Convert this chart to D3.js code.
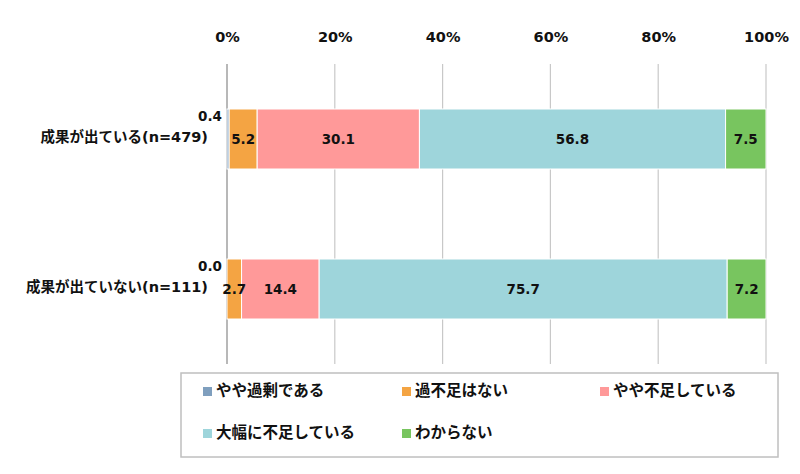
<!DOCTYPE html>
<html>
<head>
<meta charset="utf-8">
<script src="https://cdn.jsdelivr.net/npm/d3@7"></script>
<style>
	body { margin: 0; background: #fff; }
	svg text { font-family: "DejaVu Sans", "Noto Sans CJK JP", sans-serif; font-weight: bold; fill: #111; }
</style>
</head>
<body>
<div id="chart"></div>
<script>
	// data
	var categories = ["成果が出ている(n=479)", "成果が出ていない(n=111)"];
	var seriesNames = ["やや過剰である", "過不足はない", "やや不足している", "大幅に不足している", "わからない"];
	var seriesColors = ["#7f9fbe", "#f4a443", "#ff9999", "#9ed5db", "#78c55f"];
	var yayaKajo = [0.4, 0.0];
	var kafusokuNai = [5.2, 2.7];
	var yayaFusoku = [30.1, 14.4];
	var ohabaFusoku = [56.8, 75.7];
	var wakaranai = [7.5, 7.2];
	var tickValues = [0, 20, 40, 60, 80, 100];

	var allSeries = [yayaKajo, kafusokuNai, yayaFusoku, ohabaFusoku, wakaranai];
	var rows = categories.map(function(c, i){
		var r = {cat: c};
		seriesNames.forEach(function(s, k){ r[s] = allSeries[k][i]; });
		return r;
	});

	var width = 800, height = 474;
	var svg = d3.select("#chart").append("svg")
		.attr("width", width)
		.attr("height", height);

	var x = d3.scaleLinear().domain([0, 100]).range([227, 766]);
	var y = d3.scaleBand().domain(categories).range([64, 364])
		.paddingInner(0.6).paddingOuter(0.3);

	// gridlines
	svg.append("g").selectAll("line")
		.data(tickValues)
		.join("line")
		.attr("x1", d => x(d)).attr("x2", d => x(d))
		.attr("y1", 64).attr("y2", 364)
		.attr("stroke", d => d === 0 ? "#a0a0a0" : "#c8c8c8")
		.attr("stroke-width", d => d === 0 ? 1.5 : 1.2);

	// top axis
	var xAxis = svg.append("g")
		.attr("transform", "translate(0,37)")
		.call(d3.axisTop(x).tickValues(tickValues).tickFormat(d => d + "%").tickSize(0));
	xAxis.select(".domain").remove();
	xAxis.selectAll("text")
		.attr("dy", "0.35em")
		.attr("y", 0)
		.style("font-size", "14.5px")
		.style("font-family", "\"DejaVu Sans\", sans-serif")
		.style("font-weight", "bold")
		.style("fill", "#111");

	// bars
	var stacked = d3.stack().keys(seriesNames)(rows);
	var layers = svg.append("g").selectAll("g")
		.data(stacked)
		.join("g")
		.attr("fill", (d, i) => seriesColors[i]);

	layers.selectAll("rect")
		.data(d => d)
		.join("rect")
		.attr("x", d => x(d[0]))
		.attr("width", d => x(d[1]) - x(d[0]))
		.attr("y", d => y(d.data.cat))
		.attr("height", y.bandwidth())
		.attr("stroke", "#fff")
		.attr("stroke-width", 1);

	// value labels
	stacked.forEach(function(layer, k){
		layer.forEach(function(d){
			var v = d.data[seriesNames[k]];
			var tx, ty, anchor;
			if(k === 0){
				tx = x(0) - 5;
				ty = y(d.data.cat) + 7;
				anchor = "end";
			} else {
				tx = (x(d[0]) + x(d[1])) / 2;
				ty = y(d.data.cat) + y.bandwidth() / 2;
				anchor = "middle";
			}
			svg.append("text")
				.attr("x", tx)
				.attr("y", ty)
				.attr("text-anchor", anchor)
				.attr("dominant-baseline", "central")
				.style("font-size", "13.5px")
				.text(v.toFixed(1));
		});
	});

	// category labels
	svg.append("g").selectAll("text")
		.data(categories)
		.join("text")
		.attr("x", 208)
		.attr("y", d => y(d) + y.bandwidth() / 2 - 2)
		.attr("text-anchor", "end")
		.attr("dominant-baseline", "central")
		.style("font-size", "14.5px")
		.text(d => d);

	// legend
	svg.append("rect")
		.attr("x", 181).attr("y", 373)
		.attr("width", 597).attr("height", 84)
		.attr("fill", "#fff")
		.attr("stroke", "#bfbfbf")
		.attr("stroke-width", 1.5);

	var legendCols = [203, 402, 600];
	var legendRows = [391, 433];
	var legend = svg.append("g").selectAll("g")
		.data(seriesNames)
		.join("g")
		.attr("transform", (d, i) => `translate(${legendCols[i % 3]}, ${legendRows[Math.floor(i / 3)]})`);
	legend.append("rect")
		.attr("x", 0).attr("y", -4)
		.attr("width", 9).attr("height", 9)
		.attr("fill", (d, i) => seriesColors[i]);
	legend.append("text")
		.attr("x", 13)
		.attr("y", 0)
		.attr("dominant-baseline", "central")
		.style("font-size", "15.5px")
		.text(d => d);
</script>
</body>
</html>
